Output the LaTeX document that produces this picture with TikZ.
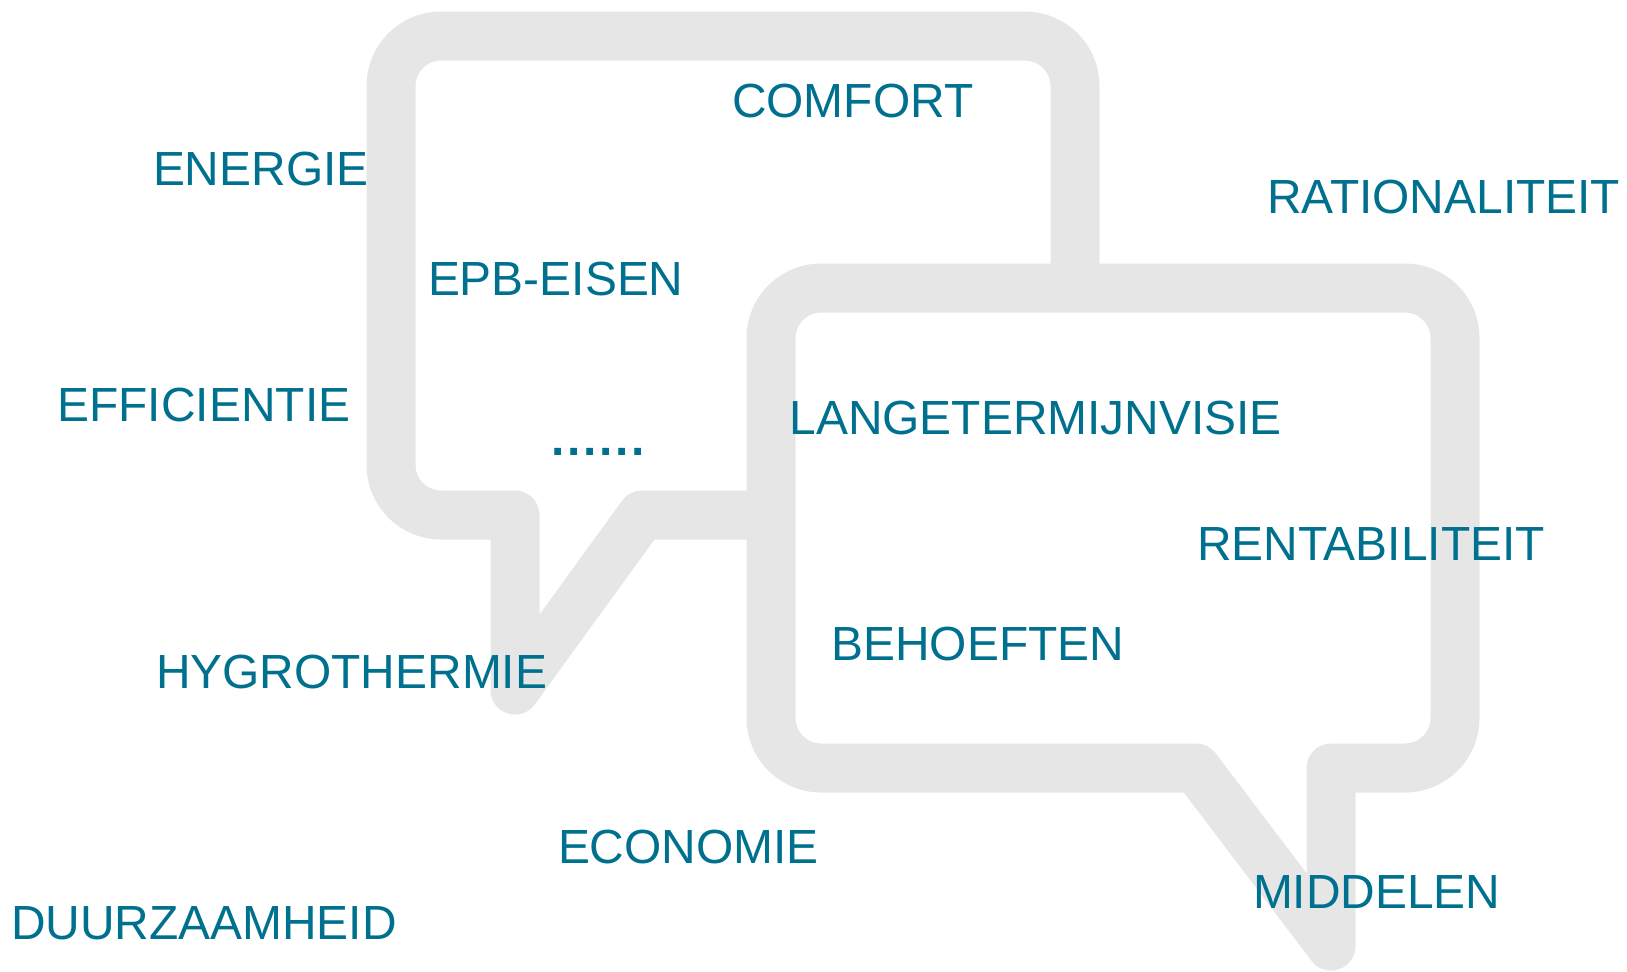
\documentclass[tikz,border=0pt]{standalone}
\usepackage{fontspec}
\setmainfont{Liberation Sans}
\definecolor{bandgray}{RGB}{230,230,230}
\definecolor{wordteal}{RGB}{0,112,143}
\begin{document}
\begin{tikzpicture}[x=0.5pt,y=-0.5pt,
  bubble/.style={draw=bandgray, line width=24.5pt, line join=round, fill=white},
  word/.style={anchor=base west, inner sep=0pt, outer sep=0pt, text=wordteal,
    font=\fontsize{23.95}{28}\selectfont}]
\useasboundingbox (0,0) rectangle (1627,971);
% left / upper bubble
\draw[bubble] (642,515) -- (515,690) -- (515,515) -- (441,515)
  .. controls (413.4,515) and (391,492.6) .. (391,465) -- (391,86)
  .. controls (391,58.4) and (413.4,36) .. (441,36) -- (1025,36)
  .. controls (1052.6,36) and (1075,58.4) .. (1075,86) -- (1075,465)
  .. controls (1075,492.6) and (1052.6,515) .. (1025,515) -- cycle;
% right / lower bubble
\draw[bubble] (821,768) -- (1196,768) -- (1331,946) -- (1331,768) -- (1405,768)
  .. controls (1432.6,768) and (1455,745.6) .. (1455,718) -- (1455,338)
  .. controls (1455,310.4) and (1432.6,288) .. (1405,288) -- (821,288)
  .. controls (793.4,288) and (771,310.4) .. (771,338) -- (771,718)
  .. controls (771,745.6) and (793.4,768) .. (821,768) -- cycle;
% words
\node[word] (comfort) at (732,117.5) {COMFORT};
\node[word] (energie) at (153,185.5) {ENERGIE};
\node[word] (rationaliteit) at (1267,213) {RATIONALITEIT};
\node[word] (epb) at (428,295) {EPB-EISEN};
\node[word] (efficientie) at (57.5,421) {EFFICIENTIE};
\node[word] (lange) at (789.5,434.5) {LANGETERMIJNVISIE};
\node[word, font=\fontsize{23.95}{28}\selectfont\bfseries] (dots) at (551,455)
  {.\kern1.4pt.\kern1.4pt.\kern1.4pt.\kern1.4pt.\kern1.4pt.};
\node[word] (rentabiliteit) at (1197,560.5) {RENTABILITEIT};
\node[word] (behoeften) at (831.5,660.5) {BEHOEFTEN};
\node[word] (hygro) at (156,688.5) {HYGROTHERMIE};
\node[word] (economie) at (558,863.5) {ECONOMIE};
\node[word] (middelen) at (1253,908) {MIDDELEN};
\node[word] (duurzaamheid) at (11,939.5) {DUURZAAMHEID};
\end{tikzpicture}
\end{document}
